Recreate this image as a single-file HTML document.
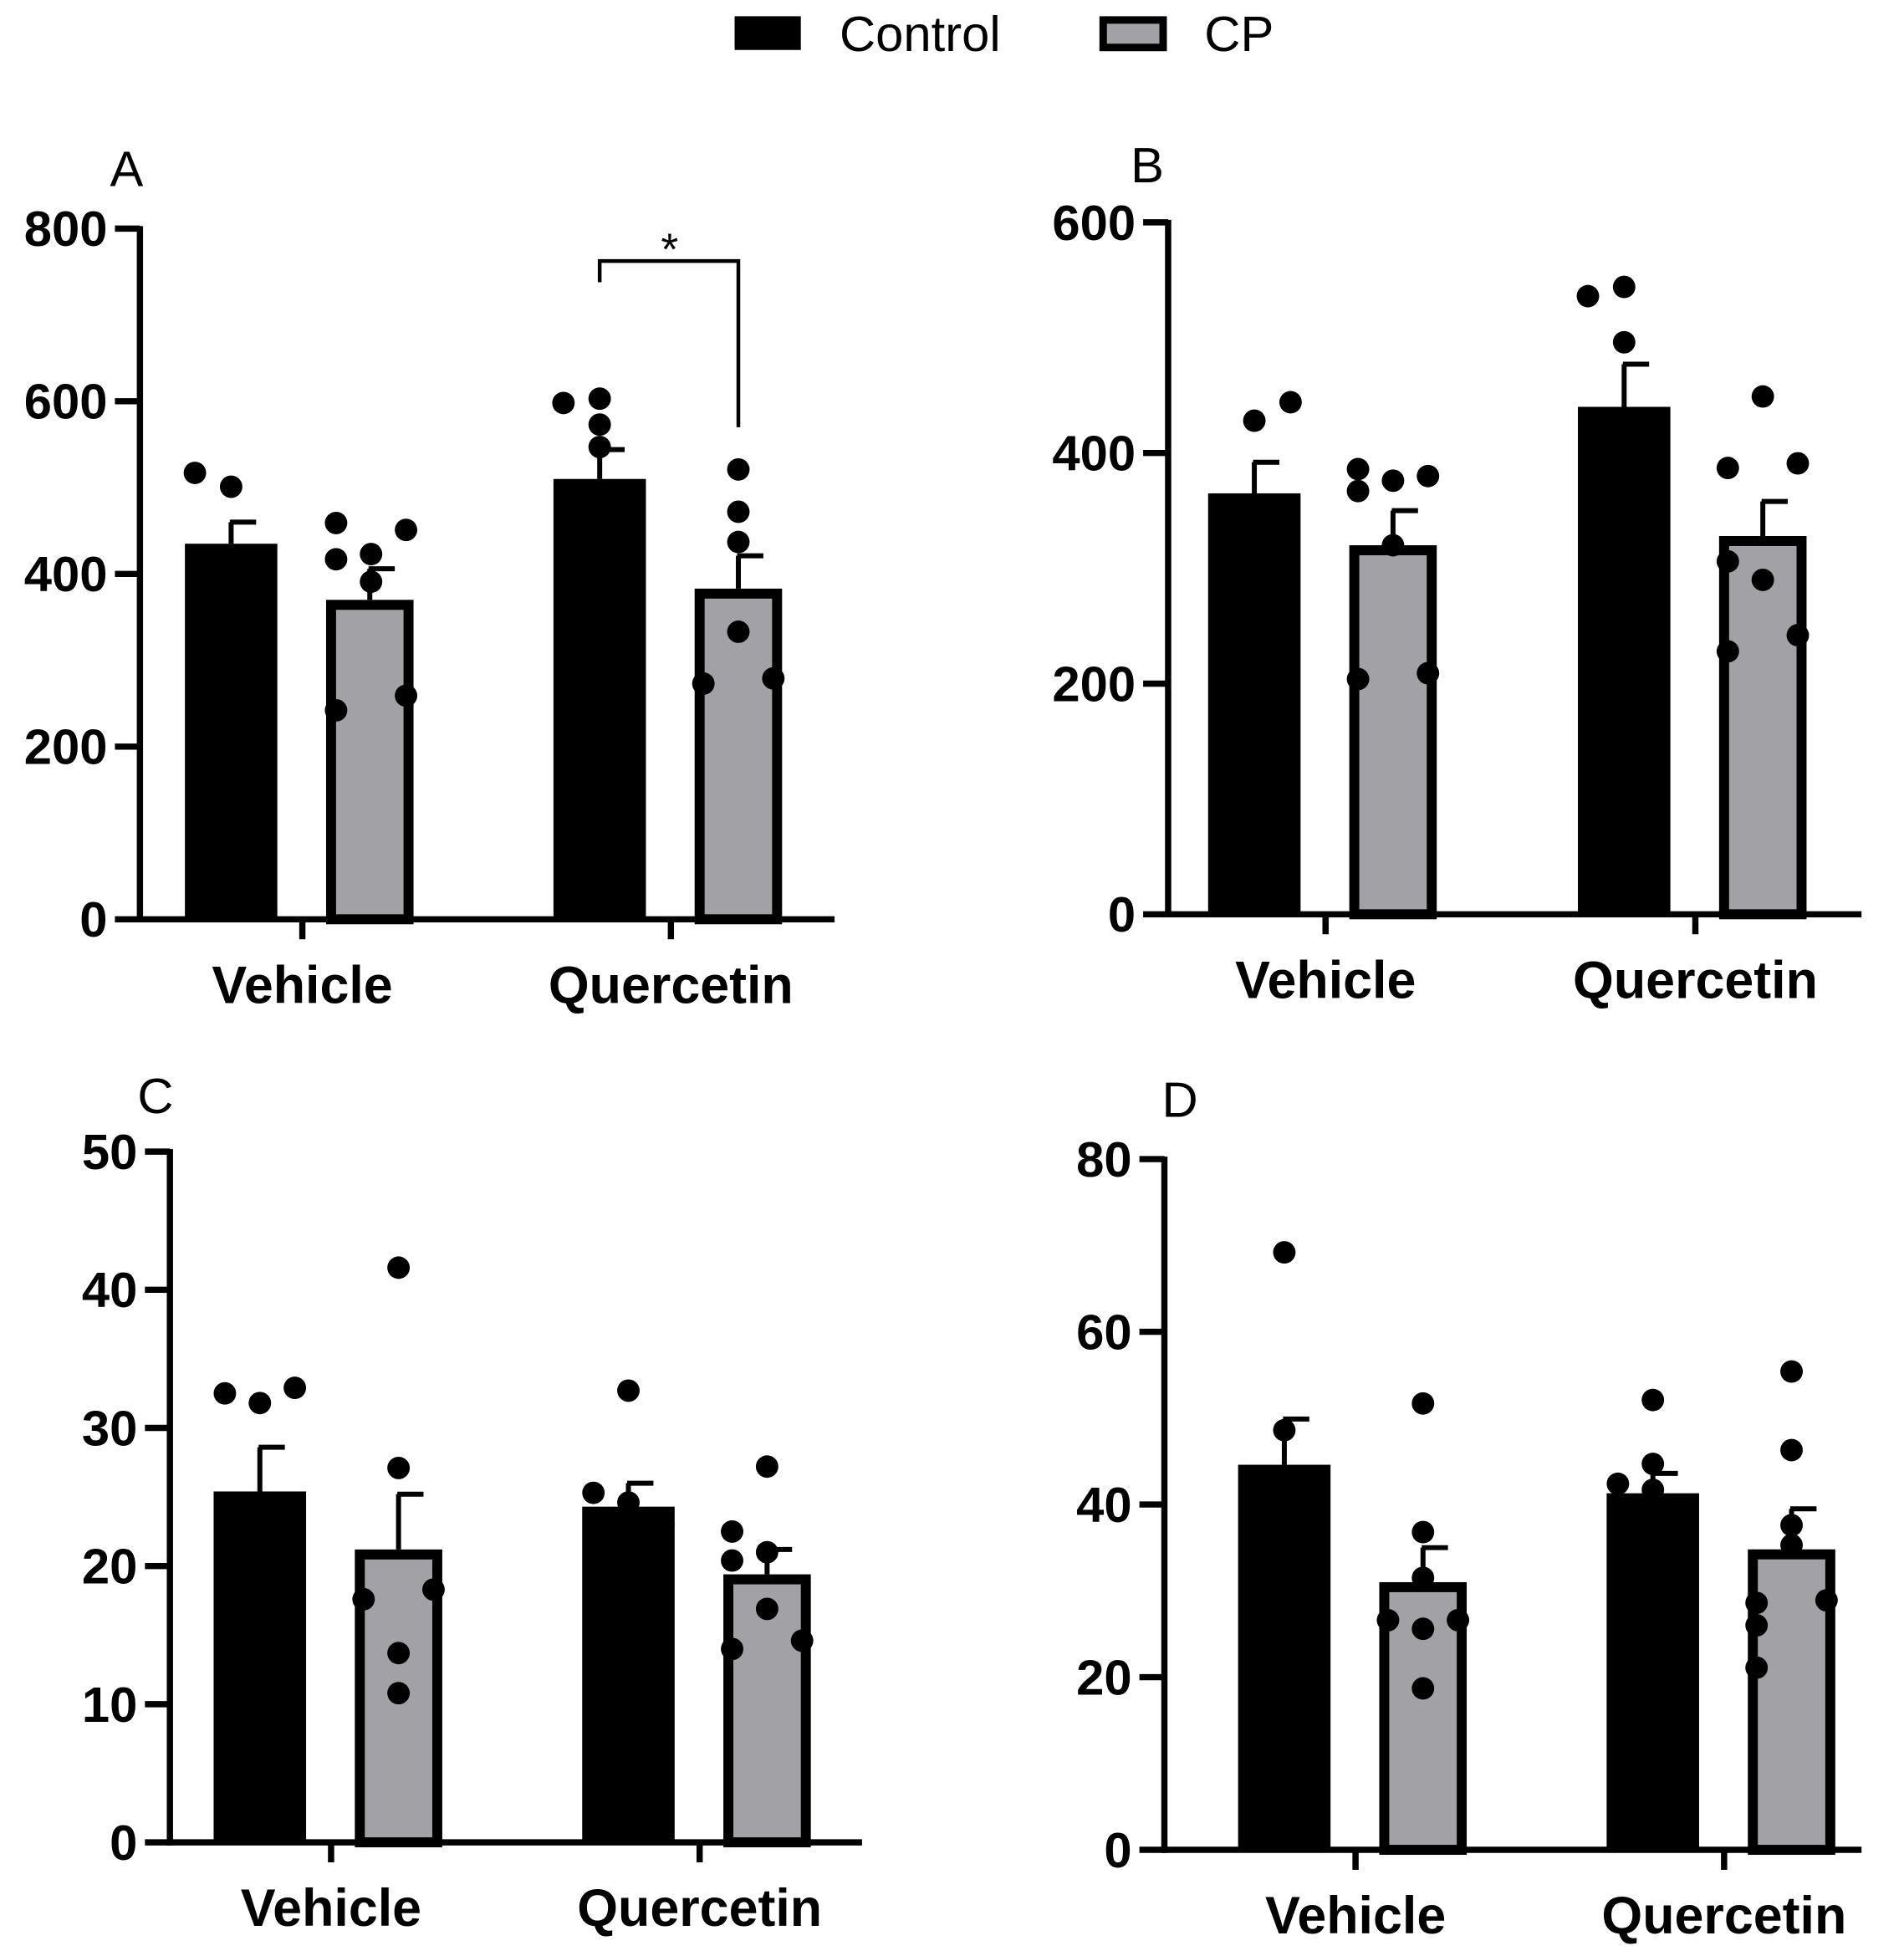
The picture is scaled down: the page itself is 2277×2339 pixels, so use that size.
<!DOCTYPE html>
<html><head><meta charset="utf-8"><style>html,body{margin:0;padding:0;background:#fff}svg{display:block}</style></head>
<body>
<svg id="fig" width="2277" height="2339" viewBox="0 0 1524 1566" preserveAspectRatio="none" xmlns="http://www.w3.org/2000/svg" font-family="Liberation Sans, Arial, sans-serif">
<g>
<rect x="588" y="13" width="53" height="27" fill="#000"/>
<text x="672" y="41" font-size="40">Control</text>
<rect x="883" y="16" width="48" height="22" fill="#a2a2a6" stroke="#000" stroke-width="6"/>
<text x="964" y="41" font-size="40">CP</text>
</g>
</svg>
<script>
const categories = ["Vehicle", "Quercetin"];
const aMeans = [[435, 370], [510, 383]];
const aErr = [[460, 406], [544, 421]];
const aPts = [[[517, 501], [459, 417, 423, 451, 391, 242, 259]], [[598, 603, 573, 547], [521, 472, 437, 333, 273, 279]]];
const aTicks = [0, 200, 400, 600, 800];
const bMeans = [[365, 320], [440, 328]];
const bErr = [[392, 350], [477, 358]];
const bPts = [[[428, 444], [386, 367, 376, 380, 320, 204, 209]], [[536, 544, 496], [449, 387, 391, 306, 290, 228, 242]]];
const bTicks = [0, 200, 400, 600];
const cMeans = [[25.4, 21.2], [24.3, 19.4]];
const cErr = [[28.6, 25.2], [26.0, 21.2]];
const cPts = [[[32.5, 31.8, 32.9], [41.6, 27.1, 17.6, 18.3, 13.7, 10.8]], [[32.7, 25.3, 24.6, 23.0], [27.2, 22.5, 21.0, 20.4, 16.9, 14.0, 14.6]]];
const cTicks = [0, 10, 20, 30, 40, 50];
const dMeans = [[44.6, 31.0], [41.3, 34.8]];
const dErr = [[49.9, 35.0], [43.6, 39.5]];
const dPts = [[[69.2, 48.6], [51.7, 36.8, 31.5, 26.6, 25.6, 26.6, 18.7]], [[52.1, 44.7, 42.4, 41.7], [55.4, 46.3, 37.6, 28.6, 28.9, 35.3, 26.0, 21.1]]];
const dTicks = [0, 20, 40, 60, 80];
const offs = {
 A: [[[-29, 0], [-27, -27, 1, 29, 1, -27, 29]], [[-29, 0, 0, 0], [0, 0, 0, 0, -28, 28]]],
 B: [[[0, 29], [-28, -28, 0, 28, 0, -28, 28]], [[-29, 0, 0], [0, -28, 28, -28, 0, -28, 28]]],
 C: [[[-28, 0, 28], [0, 0, -28, 28, 0, 0]], [[0, -28, 0, 28], [0, -28, 0, -28, 0, -28, 28]]],
 D: [[[0, 0], [0, 0, 0, -28, 0, 28, 0]], [[0, 0, -28, 0], [0, 0, 0, -28, 28, 0, -28, -28]]]
};
const svg = document.getElementById('fig');
const NS = 'http://www.w3.org/2000/svg';
function mk(tag, attrs, parent) {
  const e = document.createElementNS(NS, tag);
  for (const k in attrs) e.setAttribute(k, attrs[k]);
  parent.appendChild(e); return e;
}
function panel(P) {
  const g = mk('g', {}, svg);
  
  
  const y = v => P.y0 - (v / P.max) * (P.y0 - P.yTop);
  const lt = mk('text', {x: P.lx, y: P.ly, 'font-size': 40}, g);
  lt.textContent = P.letter;
  
  
  P.ticks.forEach(t => {
    const tl = mk('line', {x1: P.ax - 20, x2: P.ax, y1: y(t), y2: y(t), stroke: '#000', 'stroke-width': 5}, g);
    
    
    const tx = mk('text', {x: P.ax - 26, y: y(t) + 14, 'font-size': 40, 'font-weight': 'bold', 'text-anchor': 'end'}, g);
    tx.textContent = t;
    
    
  });
  const ya = mk('line', {x1: P.ax, x2: P.ax, y1: P.yTop - 2, y2: P.y0 + 2.5, stroke: '#000', 'stroke-width': 5}, g);
  
  
  const xa = mk('line', {x1: P.ax - 2.5, x2: P.axEnd, y1: P.y0, y2: P.y0, stroke: '#000', 'stroke-width': 5}, g);
  
  
  categories.forEach((c, i) => {
    const tk = mk('line', {x1: P.gx[i], x2: P.gx[i], y1: P.y0, y2: P.y0 + 16, stroke: '#000', 'stroke-width': 5}, g);
    
    
    const tx = mk('text', {x: P.gx[i], y: P.y0 + 67, 'font-size': 42, 'font-weight': 'bold', 'text-anchor': 'middle'}, g);
    tx.textContent = c;
    
    
    [0, 1].forEach(s => {
      const cx = P.gx[i] + (s === 0 ? -57 : 54);
      const m = P.means[i][s], e = P.err[i][s];
      const el = mk('line', {x1: cx, x2: cx, y1: y(e), y2: y(m), stroke: '#000', 'stroke-width': 4}, g);
      
      
      const ec = mk('line', {x1: cx - 1, x2: cx + 20, y1: y(e), y2: y(e), stroke: '#000', 'stroke-width': 4}, g);
      
      
      let b;
      if (s === 0) b = mk('rect', {x: cx - 37, y: y(m), width: 74, height: P.y0 - y(m), fill: '#000'}, g);
      else b = mk('rect', {x: cx - 31, y: y(m) + 4, width: 62, height: P.y0 - y(m) - 4, fill: '#a2a2a6', stroke: '#000', 'stroke-width': 8}, g);
      
      
      P.pts[i][s].forEach((v, k) => {
        const d = mk('circle', {cx: cx + (P.offs[i][s][k] || 0), cy: y(v), r: 9, fill: '#000'}, g);
        
        
      });
    });
  });
  return {g, y};
}
const pa = panel({letter: 'A', lx: 88, ly: 149, ax: 112, axEnd: 668, yTop: 183, y0: 736, max: 800, ticks: aTicks, gx: [242, 537], means: aMeans, err: aErr, pts: aPts, offs: offs.A});
const br = mk('path', {d: 'M480 226 V209 H591 V342', fill: 'none', stroke: '#000', 'stroke-width': 3}, pa.g);


const st = mk('text', {x: 536, y: 212, 'font-size': 36, 'text-anchor': 'middle'}, pa.g);
st.textContent = '*';


panel({letter: 'B', lx: 905, ly: 146, ax: 935, axEnd: 1490, yTop: 178, y0: 732, max: 600, ticks: bTicks, gx: [1061, 1357], means: bMeans, err: bErr, pts: bPts, offs: offs.B});
panel({letter: 'C', lx: 110, ly: 891, ax: 136, axEnd: 690, yTop: 922, y0: 1475, max: 50, ticks: cTicks, gx: [265, 560], means: cMeans, err: cErr, pts: cPts, offs: offs.C});
panel({letter: 'D', lx: 930, ly: 894, ax: 932, axEnd: 1490, yTop: 928, y0: 1481, max: 80, ticks: dTicks, gx: [1085, 1380], means: dMeans, err: dErr, pts: dPts, offs: offs.D});
</script>
</body></html>
